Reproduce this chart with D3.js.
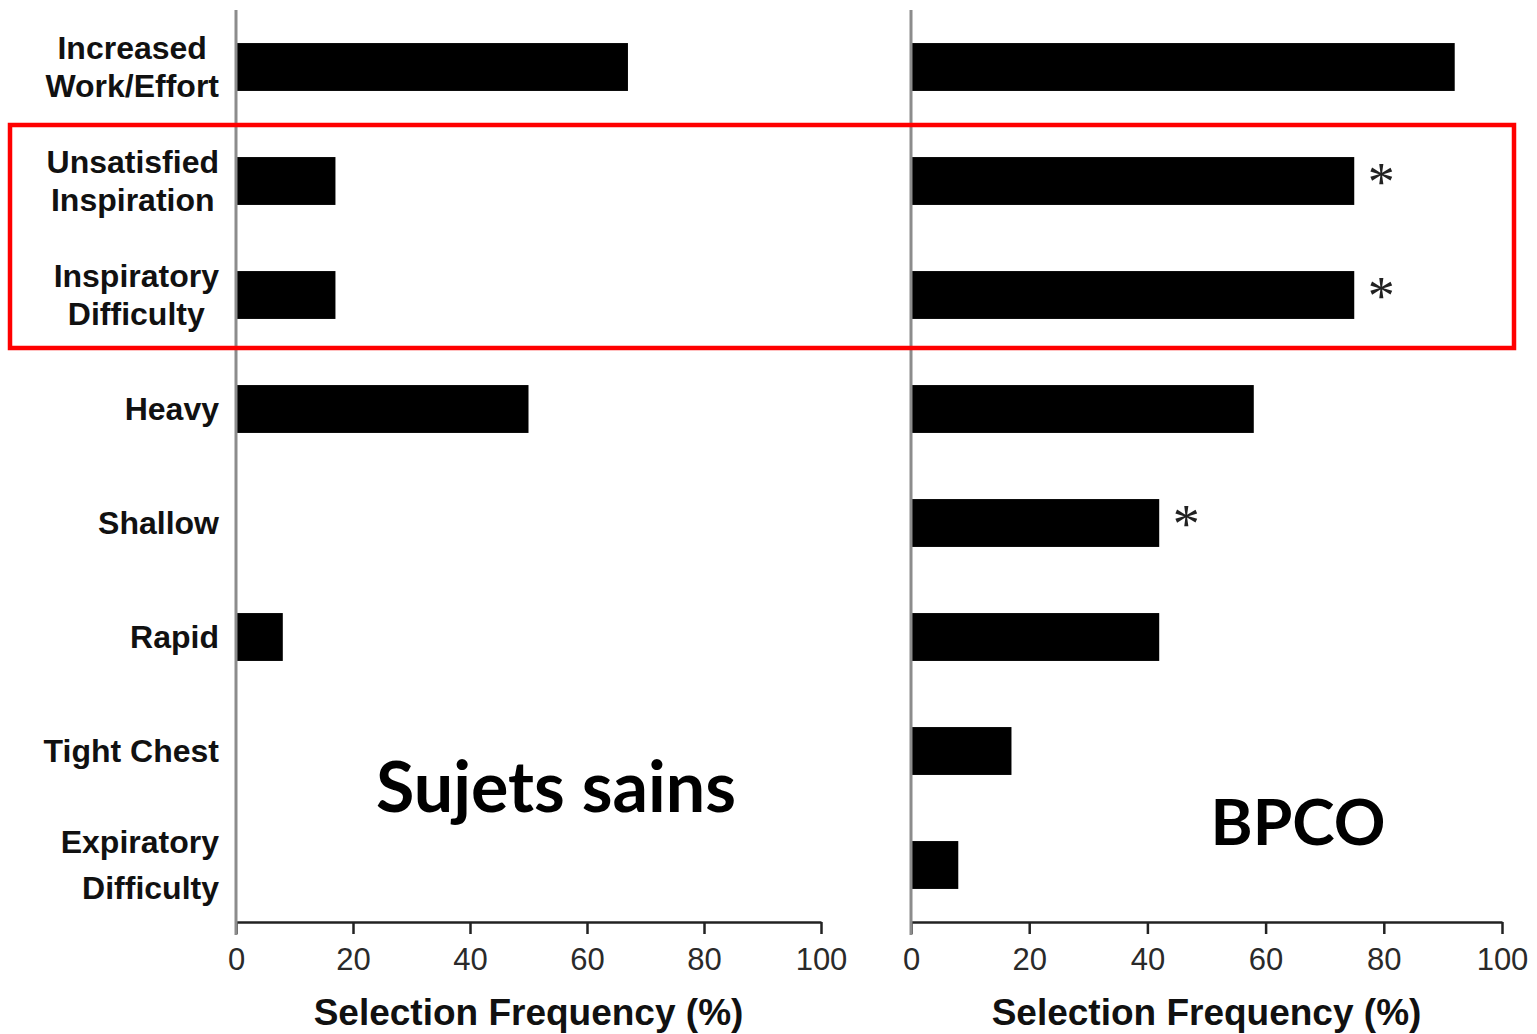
<!DOCTYPE html>
<html>
<head>
<meta charset="utf-8">
<script src="https://cdn.jsdelivr.net/npm/d3@7"></script>
<style>
  html, body { margin: 0; padding: 0; background: #fff; }
  svg { display: block; }
</style>
</head>
<body>
<svg id="chart" width="1537" height="1034"></svg>
<script>
// Breathing-sensation descriptors (one label line per array entry)
const categories = [
  ["Increased", "Work/Effort"],
  ["Unsatisfied", "Inspiration"],
  ["Inspiratory", "Difficulty"],
  ["Heavy"],
  ["Shallow"],
  ["Rapid"],
  ["Tight Chest"],
  ["Expiratory", "Difficulty"]
];

// Selection frequency (%) — healthy subjects
const healthyValues = [67, 17, 17, 50, 0, 8, 0, 0];
// Selection frequency (%) — COPD patients
const copdValues = [92, 75, 75, 58, 42, 42, 17, 8];
// Significant difference vs healthy subjects
const copdSignificant = [false, true, true, false, true, false, false, false];

const xTicks = [0, 20, 40, 60, 80, 100];
const axisTitle = "Selection Frequency (%)";
const panelTitles = ["Sujets sains", "BPCO"];

const svg = d3.select("#chart");
const keys = categories.map(d => d.join(" "));

const y = d3.scaleBand()
  .domain(keys)
  .range([10, 922])
  .paddingInner(0.58)
  .paddingOuter(0.29);

const axisY = 922;
const sansFont = "Liberation Sans, Arial, sans-serif";

function drawPanel(values, x0, x1, flags) {
  const x = d3.scaleLinear().domain([0, 100]).range([x0, x1]);
  const g = svg.append("g");

  // bars
  g.selectAll("rect.bar")
    .data(values.map((v, i) => ({ key: keys[i], v })))
    .join("rect")
    .attr("class", "bar")
    .attr("x", x(0))
    .attr("y", d => y(d.key))
    .attr("width", d => x(d.v) - x(0))
    .attr("height", y.bandwidth())
    .attr("fill", "#000");

  // significance markers
  if (flags) {
    g.selectAll("text.sig")
      .data(values.map((v, i) => ({ key: keys[i], v, s: flags[i] })).filter(d => d.s))
      .join("text")
      .attr("class", "sig")
      .attr("x", d => x(d.v) + 27)
      .attr("y", d => y(d.key) + y.bandwidth() / 2 + 19)
      .attr("text-anchor", "middle")
      .attr("font-family", "Liberation Serif, serif")
      .attr("font-size", 54)
      .attr("fill", "#222")
      .text("*");
  }

  // x axis
  const ax = g.append("g")
    .attr("transform", `translate(0,${axisY})`)
    .call(d3.axisBottom(x).tickValues(xTicks).tickSize(12).tickSizeOuter(0).tickPadding(14));
  ax.select(".domain").attr("stroke", "#222").attr("stroke-width", 2.5);
  ax.selectAll(".tick line").attr("stroke", "#222").attr("stroke-width", 2.5);
  ax.selectAll(".tick text")
    .attr("font-family", sansFont)
    .attr("font-size", 31)
    .attr("fill", "#2a2a2a");

  // vertical baseline
  g.append("line")
    .attr("x1", x(0)).attr("x2", x(0))
    .attr("y1", 10).attr("y2", axisY + 13)
    .attr("stroke", "#8c8c8c")
    .attr("stroke-width", 3);

  // axis title
  g.append("text")
    .attr("x", (x0 + x1) / 2)
    .attr("y", 1025)
    .attr("text-anchor", "middle")
    .attr("font-family", sansFont)
    .attr("font-weight", "bold")
    .attr("font-size", 37)
    .attr("fill", "#111")
    .text(axisTitle);

  return x;
}

drawPanel(healthyValues, 236, 821, null);
drawPanel(copdValues, 911, 1502, copdSignificant);

// category labels: multi-line labels are centred as a block whose right
// edge sits at the axis gutter; the last one is flush right
const labelRight = 219;
const labelG = svg.append("g")
  .attr("font-family", sansFont)
  .attr("font-weight", "bold")
  .attr("font-size", 32)
  .attr("fill", "#111");

categories.forEach((lines, i) => {
  const cy = y(keys[i]) + y.bandwidth() / 2;
  const isLast = i === categories.length - 1;
  const lh = isLast ? 46 : 38;
  const t = labelG.append("text");
  const spans = lines.map((ln, j) => {
    const off = (j - (lines.length - 1) / 2) * lh;
    return t.append("tspan")
      .attr("y", cy + off + 11)
      .text(ln);
  });
  if (lines.length > 1 && !isLast) {
    const w = d3.max(spans, s => s.node().getComputedTextLength());
    const cx = labelRight - w / 2;
    spans.forEach(s => s.attr("x", cx).attr("text-anchor", "middle"));
  } else {
    spans.forEach(s => s.attr("x", labelRight).attr("text-anchor", "end"));
  }
});

// highlight box around the inspiratory descriptors
svg.append("rect")
  .attr("x", 10)
  .attr("y", 125)
  .attr("width", 1504)
  .attr("height", 223)
  .attr("fill", "none")
  .attr("stroke", "#ff0000")
  .attr("stroke-width", 4.5);

// panel titles
const titleG = svg.append("g")
  .attr("font-family", "Lato, 'Open Sans', sans-serif")
  .attr("font-weight", "bold")
  .attr("fill", "#000")
  .attr("text-anchor", "middle");
titleG.append("text").attr("x", 556).attr("y", 812).attr("font-size", 70).text(panelTitles[0]);
titleG.append("text").attr("x", 1298).attr("y", 845).attr("font-size", 64).text(panelTitles[1]);
</script>
</body>
</html>
